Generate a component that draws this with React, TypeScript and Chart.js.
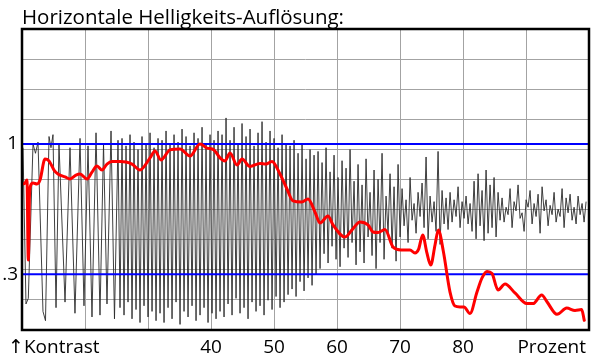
import React, { useEffect, useRef } from "react";
import { Chart, registerables } from "chart.js";

Chart.register(...registerables);

const TITLE = "Horizontale Helligkeits-Auflösung:";
const FONT = "'Open Sans', 'DejaVu Sans', sans-serif";

// x axis (Prozent)
const X_MIN = 10;
const X_MAX = 100;
const X_STEP = 10;
const xTickLabels = [40, 50, 60, 70, 80];
const xStartCaption = "↑Kontrast";
const xEndCaption = "Prozent";

// y axis (Kontrast)
const Y_MAX = 1.618;
const yGridCount = 10;
const refLevels = [0.3, 1];
const refLabels = [".3", "1"];

// black measured signal: first slow cycles (x, y)
const signalHeadX = [
  10.16, 10.63, 11.0, 11.75, 12.14, 12.54, 13.33, 13.73, 14.29, 14.6, 14.92, 15.4, 15.87, 16.83,
  17.62, 18.41, 19.21, 19.84, 20.48, 21.11, 21.75, 22.38, 22.94, 23.49, 24.13, 24.68, 25.24,
];
const signalHeadY = [
  0.98, 0.14, 0.17, 1.0, 0.95, 1.01, 0.1, 0.05, 1.04, 0.98, 1.05, 0.12, 1.0, 0.15,
  0.98, 0.09, 1.03, 0.13, 0.99, 0.07, 1.06, 0.08, 1.0, 0.14, 1.07, 0.06, 1.02,
];
// black measured signal: dense part, sampled every signalTailStep from signalTailStart
const signalTailStart = 25.56;
const signalTailStep = 0.3175;
const signalTailY = [
  0.12, 1.03, 0.08, 0.99, 0.15, 1.05, 0.06, 1.01, 0.11, 0.97, 0.04, 1.04, 0.13, 1.0, 0.07, 1.06, 0.1, 0.98, 0.05, 1.03,
  0.09, 1.02, 0.04, 1.07, 0.12, 1.0, 0.06, 1.05, 0.15, 1.01, 0.03, 1.08, 0.1, 1.04, 0.07, 0.99, 0.13, 1.06, 0.05, 1.03,
  0.08, 1.09, 0.12, 1.0, 0.04, 1.05, 0.09, 1.02, 0.06, 1.07,
  0.1, 1.05, 0.07, 1.14, 0.14, 1.02, 0.08, 1.09, 0.17, 1.0, 0.09, 1.11, 0.12, 1.04, 0.06, 1.08, 0.15, 0.99, 0.1, 1.06,
  0.13, 1.12, 0.08, 1.01, 0.16, 1.07, 0.11, 1.03, 0.18, 0.98, 0.12, 1.05, 0.15, 1.0, 0.19,
  0.99, 0.22, 1.02, 0.18, 0.95, 0.26, 1.0, 0.21, 0.92, 0.28, 0.97, 0.24, 0.94, 0.3, 0.96,
  0.33, 0.9, 0.41, 0.98, 0.36, 0.85, 0.45, 0.94, 0.38, 0.82, 0.34, 0.91, 0.44, 0.87, 0.39, 0.97, 0.47, 0.8, 0.35, 0.89,
  0.42, 0.78, 0.36, 0.92, 0.5, 0.74, 0.4, 0.86, 0.33, 0.81, 0.47, 0.95, 0.38, 0.72, 0.52, 0.84, 0.44, 0.77, 0.37, 0.89,
  0.5, 0.76, 0.56, 0.7, 0.47, 0.82, 0.59, 0.68, 0.52, 0.74, 0.61, 0.79, 0.55, 0.93, 0.49, 0.72, 0.58, 0.69, 0.53, 0.96,
  0.46, 0.75, 0.57, 0.71, 0.54,
  0.74, 0.58, 0.7, 0.61, 0.77, 0.55, 0.69, 0.6, 0.72, 0.57, 0.68,
  0.53, 0.8, 0.49, 0.84, 0.56, 0.75, 0.48, 0.86, 0.52, 0.78, 0.55, 0.82, 0.5, 0.74, 0.59,
  0.71, 0.58, 0.66, 0.62, 0.76, 0.55, 0.69, 0.64, 0.78, 0.6, 0.63, 0.53, 0.7, 0.66, 0.75, 0.57, 0.68, 0.61, 0.73, 0.52,
  0.77, 0.64, 0.7, 0.56, 0.67, 0.62, 0.74, 0.58, 0.65, 0.61, 0.76, 0.55, 0.71, 0.63, 0.73, 0.59, 0.66, 0.57, 0.72, 0.62,
  0.68, 0.58, 0.69,
];

// red smoothed contrast curve
const contrastX = [
  10.16, 10.48, 10.79, 11.0, 11.19, 11.35, 11.75, 12.38, 12.86, 13.65, 14.29, 15.08, 15.71, 16.83, 17.62, 18.57,
  19.21, 20.32, 21.11, 21.9, 22.7, 23.49, 24.29, 25.56, 26.51, 27.46, 28.73, 30.32, 31.11, 32.06, 33.49, 35.08,
  36.67, 38.25, 39.37, 40.48, 41.43, 42.22, 43.02, 44.13, 44.92, 46.19, 47.78, 48.73, 49.68, 50.95, 52.06, 53.02,
  54.4, 55.4, 56.51, 57.3, 58.57, 59.37, 61.27, 62.38, 63.65, 64.92, 65.71, 66.51, 67.62, 68.89, 70.16, 71.59,
  72.38, 72.94, 73.6, 74.24, 74.87, 75.56, 76.08, 76.87, 77.94, 78.73, 79.52, 80.16, 81.11, 82.22, 83.02, 83.81,
  84.6, 85.56, 86.67, 88.25, 90.11, 91.11, 92.49, 93.33, 94.92, 96.46, 97.78, 98.84, 99.25,
];
const contrastY = [
  0.785, 0.79, 0.806, 0.376, 0.726, 0.774, 0.79, 0.785, 0.806, 0.919, 0.909, 0.86, 0.839, 0.823, 0.812, 0.833,
  0.839, 0.812, 0.849, 0.882, 0.86, 0.892, 0.906, 0.906, 0.903, 0.892, 0.86, 0.925, 0.962, 0.914, 0.968, 0.973,
  0.935, 1.0, 0.978, 0.968, 0.925, 0.909, 0.952, 0.887, 0.919, 0.879, 0.895, 0.892, 0.906, 0.839, 0.758, 0.694,
  0.688, 0.704, 0.634, 0.575, 0.613, 0.565, 0.5, 0.538, 0.581, 0.565, 0.527, 0.524, 0.54, 0.446, 0.43, 0.43,
  0.414, 0.433, 0.511, 0.419, 0.349, 0.457, 0.538, 0.425, 0.204, 0.129, 0.124, 0.124, 0.089, 0.204, 0.28, 0.315,
  0.304, 0.215, 0.247, 0.199, 0.142, 0.142, 0.188, 0.152, 0.084, 0.118, 0.105, 0.11, 0.052,
];

const isRef = (v: number | undefined) =>
  v !== undefined && refLevels.some((r) => Math.abs(r - v) < 1e-6);

export default function App() {
  const canvasRef = useRef<HTMLCanvasElement | null>(null);

  useEffect(() => {
    const canvas = canvasRef.current;
    if (!canvas) return;

    const signal = signalHeadX.map((x, i) => ({ x, y: signalHeadY[i] }));
    signalTailY.forEach((y, i) => signal.push({ x: signalTailStart + i * signalTailStep, y }));
    const contrast = contrastX.map((x, i) => ({ x, y: contrastY[i] }));
    const refSets = refLevels.map((v) => ({
      data: [
        { x: X_MIN, y: v },
        { x: X_MAX, y: v },
      ],
      borderColor: "#0000ff",
      borderWidth: 2,
      pointRadius: 0,
      order: 1,
    }));

    const frame = {
      id: "frame",
      afterDatasetsDraw(chart: any) {
        const { ctx, chartArea: a } = chart;
        ctx.save();
        ctx.strokeStyle = "#000";
        ctx.lineWidth = 2.5;
        ctx.strokeRect(a.left, a.top, a.right - a.left, a.bottom - a.top);
        ctx.restore();
      },
      afterDraw(chart: any) {
        const { ctx, chartArea: a } = chart;
        ctx.save();
        ctx.fillStyle = "#000";
        ctx.font = `19px ${FONT}`;
        ctx.textBaseline = "alphabetic";
        ctx.textAlign = "left";
        ctx.fillText(xStartCaption, a.left - 14, 353);
        ctx.textAlign = "right";
        ctx.fillText(xEndCaption, a.right - 3, 353);
        ctx.restore();
      },
    };

    const chart = new Chart(canvas, {
      type: "line",
      data: {
        datasets: [
          {
            data: contrast,
            borderColor: "#ff0000",
            borderWidth: 3,
            pointRadius: 0,
            cubicInterpolationMode: "monotone",
            borderJoinStyle: "round",
            borderCapStyle: "round",
            order: 0,
          },
          ...refSets,
          {
            data: signal,
            borderColor: "#2a2a2a",
            borderWidth: 0.9,
            pointRadius: 0,
            tension: 0,
            order: 2,
          },
        ] as any,
      },
      options: {
        responsive: false,
        animation: false,
        devicePixelRatio: 1,
        layout: { padding: { left: 0, right: 11, top: 0, bottom: 0 } },
        plugins: {
          legend: { display: false },
          tooltip: { enabled: false },
          title: {
            display: true,
            text: TITLE,
            align: "start",
            fullSize: false,
            color: "#000",
            font: { family: FONT, size: 20.5, weight: "normal", lineHeight: 1.1 },
            padding: { top: 6.45, bottom: 0 },
          },
        },
        scales: {
          x: {
            type: "linear",
            min: X_MIN,
            max: X_MAX,
            afterFit: (s: any) => {
              s.height = 34;
            },
            border: { display: false },
            grid: { color: "#a3a3a3", lineWidth: 1, drawTicks: false },
            ticks: {
              stepSize: X_STEP,
              autoSkip: false,
              maxRotation: 0,
              padding: 6,
              color: "#000",
              font: { family: FONT, size: 19 },
              callback: (v: any) => (xTickLabels.includes(Number(v)) ? String(v) : ""),
            },
          },
          y: {
            type: "linear",
            min: 0,
            max: Y_MAX,
            afterBuildTicks: (s: any) => {
              const ticks: { value: number }[] = [];
              for (let i = 0; i <= yGridCount; i++) ticks.push({ value: (Y_MAX * i) / yGridCount });
              refLevels.forEach((v) => ticks.push({ value: v }));
              ticks.sort((a, b) => a.value - b.value);
              s.ticks = ticks;
            },
            afterFit: (s: any) => {
              s.width = 22;
            },
            border: { display: false },
            grid: {
              color: (c: any) => (isRef(c.tick?.value) ? "rgba(0,0,0,0)" : "#a3a3a3"),
              lineWidth: 1,
              drawTicks: false,
            },
            ticks: {
              autoSkip: false,
              padding: 4,
              color: "#000",
              font: { family: FONT, size: 19 },
              callback: (v: any) => {
                const i = refLevels.findIndex((r) => Math.abs(r - Number(v)) < 1e-6);
                return i >= 0 ? refLabels[i] : "";
              },
            },
          },
        },
      },
      plugins: [frame],
    });

    return () => chart.destroy();
  }, []);

  return (
    <div style={{ position: "absolute", left: 0, top: 0, width: 600, height: 364, background: "#fff" }}>
      <canvas ref={canvasRef} width={600} height={364} style={{ display: "block" }} />
    </div>
  );
}
